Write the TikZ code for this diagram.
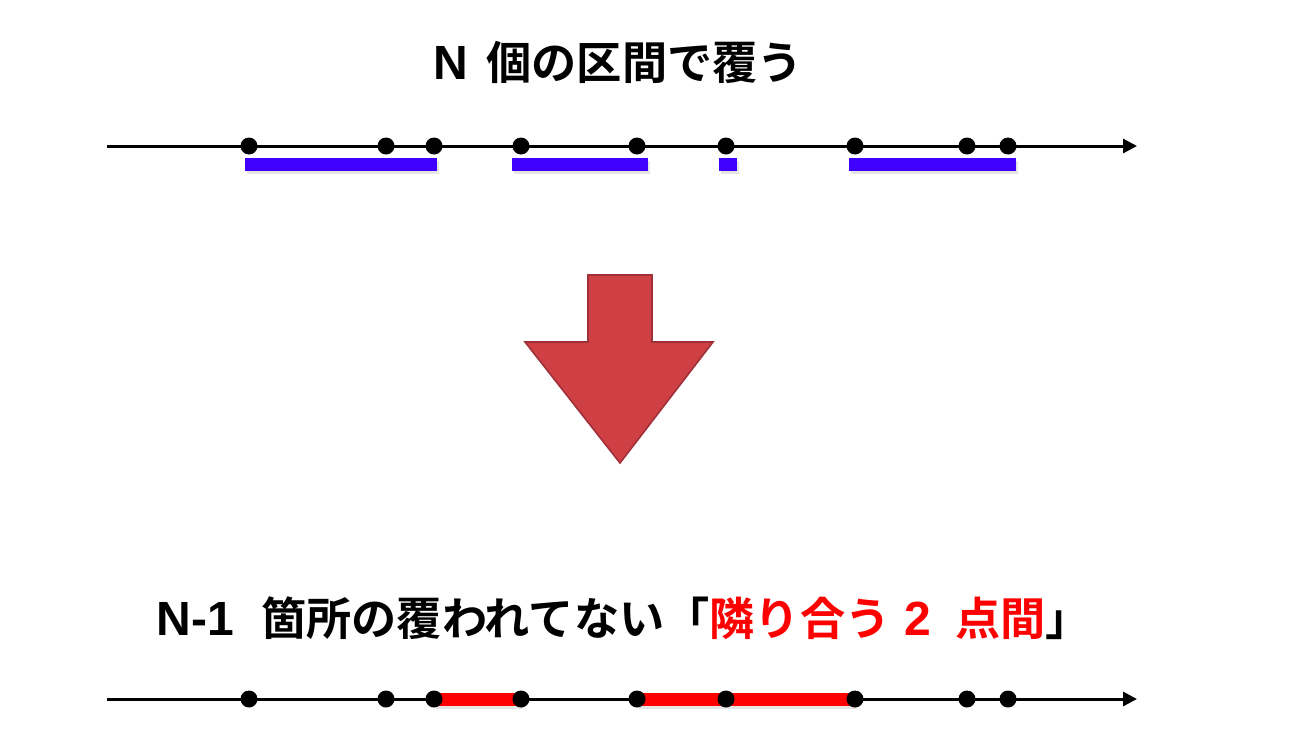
\documentclass[tikz,border=0pt]{standalone}
\usepackage{fontspec}
\newfontfamily\jpfont{Noto Sans CJK JP}[UprightFont=* Bold]
\newfontfamily\latfont{Liberation Sans}[UprightFont=* Bold]
\newcommand{\lat}[1]{{\latfont\fontsize{24pt}{28pt}\selectfont #1}}
\usetikzlibrary{arrows.meta}
\definecolor{coverblue}{RGB}{64,0,255}
\definecolor{gapred}{RGB}{255,0,0}
\definecolor{arrowfill}{RGB}{207,64,69}
\definecolor{arrowedge}{RGB}{160,48,56}

\begin{document}
\begin{tikzpicture}[
    % GLOBAL CFG
    x=0.5pt, y=-0.5pt,
    >={Triangle[length=7pt,width=7pt]},
    % Styles
    axis/.style={% number line
        ->,
        line width=1.5pt,
        },
    dotnode/.style={% points on the line
        circle,
        fill=black,
        inner sep=0pt,
        minimum size=8.5pt,
        },
    cover/.style={% covering intervals
        fill=coverblue,
        },
    gap/.style={% uncovered neighbour gaps
        fill=gapred,
        },
    shade/.style={% soft shadow below bars
        fill=black!10,
        },
    caption/.style={%
        font=\jpfont\fontsize{22.6pt}{26pt}\selectfont,
        inner sep=0pt,
        anchor=base west,
        },
    bigarrow/.style={%
        fill=arrowfill,
        draw=arrowedge,
        line width=0.8pt,
        line join=miter,
        },
    ]
    \useasboundingbox (0,0) rectangle (1300,744);

    % Titles
    \node[caption] (top) at (433.5,79)
        {\lat{N}\hspace{9pt}個の区間で覆う};
    \node[caption] (bottom) at (156.5,635)
        {\lat{N-1}\hspace{13.5pt}箇所の覆われてない「{\color{gapred}隣り合う\hspace{7pt}\lat{2}\hspace{12pt}点間}」};

    % Top line: intervals
    \coordinate (t0) at (107,146);
    \coordinate (t1) at (1137,146);
    \draw[axis] (t0) -- (t1);
    \foreach \a/\b in {245/437, 512/648, 719/737, 849/1016}{
        \fill[shade] (\a+2,161) rectangle (\b+2,174);
        \fill[cover] (\a,158) rectangle (\b,171);
    }

    % Bottom line: gaps
    \coordinate (b0) at (107,699);
    \coordinate (b1) at (1137,699);
    \draw[axis] (b0) -- (b1);
    \foreach \a/\b in {434/521, 637/855}{
        \fill[shade] (\a+2,696) rectangle (\b+2,709);
        \fill[gap] (\a,693) rectangle (\b,706);
    }

    % Points
    \foreach \x [count=\i] in {249,386,434,521,637,726,855,967,1008}{
        \node[dotnode] (p\i) at (\x,146) {};
        \node[dotnode] (q\i) at (\x,699) {};
    }

    % Down arrow
    \draw[bigarrow] (588,275) -- (652,275) -- (652,342) -- (713,342)
        -- (620,463) -- (525,342) -- (588,342) -- cycle;
\end{tikzpicture}
\end{document}
